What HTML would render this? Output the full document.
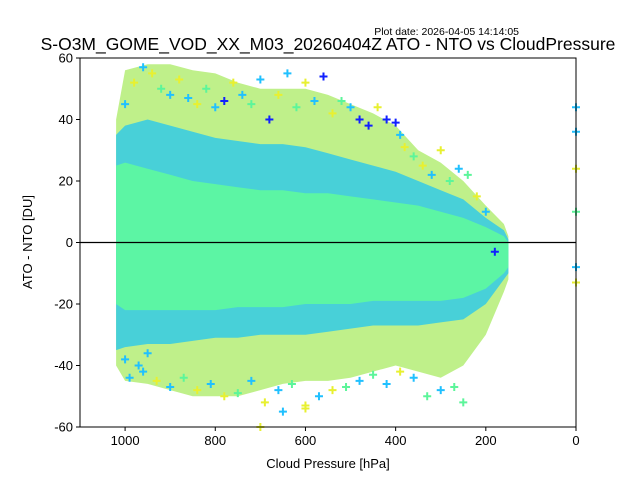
<!DOCTYPE html>
<html><head><meta charset="utf-8"><style>
body{margin:0;background:#fff;}
svg{display:block;font-family:"Liberation Sans","DejaVu Sans",sans-serif;}
</style></head><body>
<svg id="chart" width="640" height="480">
<rect width="640" height="480" fill="#fff"/>
<text x="519" y="35" font-size="10.5" text-anchor="end" fill="#000">Plot date: 2026-04-05 14:14:05</text>
<text x="328" y="50" font-size="17.5" text-anchor="middle" fill="#000">S-O3M_GOME_VOD_XX_M03_20260404Z ATO - NTO vs CloudPressure</text>
<g id="plot"></g>
<g id="axes"></g>
<text x="328" y="468" font-size="13" text-anchor="middle">Cloud Pressure [hPa]</text>
<text transform="translate(32,242) rotate(-90)" font-size="13" text-anchor="middle">ATO - NTO [DU]</text>
</svg>
<script>
const bandP = [1020,1000,950,900,850,800,750,700,650,600,550,500,450,400,350,300,250,200,160,150];
const outerUp = [40,56,58,58,56,55,52,50,50,50,48,45,42,38,30,26,20,12,6,2];
const outerLo = [-40,-45,-46,-48,-50,-50,-50,-48,-46,-45,-45,-44,-42,-40,-42,-44,-40,-30,-16,-12];
const cyanUp = [35,38,40,38,36,34,33,32,32,31,29,27,25,23,20,17,14,8,4,1];
const cyanLo = [-35,-34,-33,-33,-32,-31,-31,-30,-30,-30,-29,-28,-27,-27,-27,-26,-25,-20,-12,-10];
const coreUp = [25,26,24,22,20,19,18,17,17,16,16,15,14,13,12,10,8,5,2,0];
const coreLo = [-20,-22,-22,-22,-22,-22,-21,-21,-21,-20,-20,-20,-19,-19,-19,-19,-18,-15,-10,-8];
const ptP = [1000,980,960,940,920,900,880,860,840,820,800,780,760,740,720,700,680,660,640,620,600,580,560,540,520,500,480,460,440,420,400,390,380,360,340,320,300,280,260,240,220,200,180,960,930,900,870,840,810,780,750,720,690,660,630,600,570,540,510,480,450,420,390,360,330,300,270,250,1000,990,970,950,700,650,600,0,0,0,0,0,0];
const ptV = [45,52,57,55,50,48,53,47,45,50,44,46,52,48,45,53,40,48,55,44,52,46,54,42,46,44,40,38,44,40,39,35,31,28,25,22,30,20,24,22,15,10,-3,-42,-45,-47,-44,-48,-46,-50,-49,-45,-52,-48,-46,-53,-50,-48,-47,-45,-43,-46,-42,-44,-50,-48,-47,-52,-38,-44,-40,-36,-60,-55,-54,44,36,24,-8,-13,10];
const ptC = [1,2,1,2,3,1,2,1,2,3,1,0,2,1,3,1,0,2,1,3,2,1,0,2,3,1,0,0,2,0,0,1,2,3,2,1,2,3,1,3,2,1,0,1,2,1,3,2,1,2,3,1,2,1,3,2,1,2,3,1,3,1,2,1,3,1,3,3,1,1,1,1,2,1,2,1,1,2,1,2,3];
const colors = ["#1020ff","#20c0ff","#e8f030","#5cf59a"];
const x0=80,x1=576,y0=58,y1=427;
const xs=p=>x0+(1100-p)/1100*(x1-x0);
const ys=v=>y1-(v+60)/120*(y1-y0);
const NS="http://www.w3.org/2000/svg";
const plot=document.getElementById('plot');
function band(up,lo,fill,name){
  let d="";
  bandP.forEach((p,i)=>{d+=(i?"L":"M")+xs(p).toFixed(1)+","+ys(up[i]).toFixed(1);});
  for(let i=bandP.length-1;i>=0;i--) d+="L"+xs(bandP[i]).toFixed(1)+","+ys(lo[i]).toFixed(1);
  const el=document.createElementNS(NS,'path');
  el.setAttribute('d',d+"Z");el.setAttribute('fill',fill);
  
  
  plot.appendChild(el);
}
band(outerUp,outerLo,"#bff08a","outer-scatter-band");
band(cyanUp,cyanLo,"#48d0d8","cyan-scatter-band");
band(coreUp,coreLo,"#5cf5a4","dense-core-band");
ptP.forEach((p,i)=>{
  const x=xs(p),y=ys(ptV[i]);
  const el=document.createElementNS(NS,'path');
  el.setAttribute('d',`M${x-4},${y}H${x+4}M${x},${y-4}V${y+4}`);
  el.setAttribute('stroke',colors[ptC[i]]);el.setAttribute('stroke-width','2');
  
  
  plot.appendChild(el);
});
const axes=document.getElementById('axes');
const zl=document.createElementNS(NS,'line');
zl.setAttribute('x1',x0);zl.setAttribute('x2',x1);zl.setAttribute('y1',ys(0));zl.setAttribute('y2',ys(0));
zl.setAttribute('stroke','#000');zl.setAttribute('stroke-width','1.2');


axes.appendChild(zl);
const fr=document.createElementNS(NS,'rect');
fr.setAttribute('x',x0);fr.setAttribute('y',y0);fr.setAttribute('width',x1-x0);fr.setAttribute('height',y1-y0);
fr.setAttribute('fill','none');fr.setAttribute('stroke','#000');fr.setAttribute('stroke-width','1');


axes.appendChild(fr);
const xTicks=[1000,800,600,400,200,0];
const yTicks=[-60,-40,-20,0,20,40,60];
xTicks.forEach(t=>{
  const x=xs(t);
  const l=document.createElementNS(NS,'line');
  l.setAttribute('x1',x);l.setAttribute('x2',x);l.setAttribute('y1',y1);l.setAttribute('y2',y1+4);l.setAttribute('stroke','#000');
  
  
  axes.appendChild(l);
  const tx=document.createElementNS(NS,'text');
  tx.setAttribute('x',x);tx.setAttribute('y',y1+18);tx.setAttribute('font-size','13');tx.setAttribute('text-anchor','middle');
  tx.textContent=t;
  
  
  axes.appendChild(tx);
});
yTicks.forEach(t=>{
  const y=ys(t);
  const l=document.createElementNS(NS,'line');
  l.setAttribute('x1',x0-4);l.setAttribute('x2',x0);l.setAttribute('y1',y);l.setAttribute('y2',y);l.setAttribute('stroke','#000');
  
  
  axes.appendChild(l);
  const tx=document.createElementNS(NS,'text');
  tx.setAttribute('x',x0-7);tx.setAttribute('y',y+4.5);tx.setAttribute('font-size','13');tx.setAttribute('text-anchor','end');
  tx.textContent=t;
  
  
  axes.appendChild(tx);
});
</script>
</body></html>
